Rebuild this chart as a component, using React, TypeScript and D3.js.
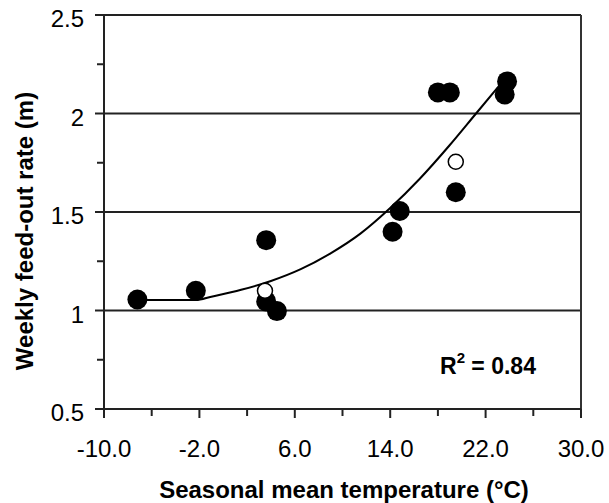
import * as d3 from "d3";

const width = 609;
const height = 503;

// filled markers (observed)
const obsTemp = [-7.2, -2.3, 3.6, 3.6, 4.5, 14.2, 14.8, 18.0, 19.0, 19.5, 23.8, 23.6];
const obsRate = [1.056, 1.1, 1.357, 1.046, 0.997, 1.4, 1.505, 2.107, 2.107, 1.6, 2.163, 2.097];

// open markers
const openTemp = [3.5, 19.5];
const openRate = [1.1, 1.755];

// fitted trend line
const fitTemp = [-7.2, -2.3, -1, 1.5, 4, 6.5, 9, 11.5, 14, 16.5, 19, 21.2, 23.2];
const fitRate = [1.053, 1.053, 1.07, 1.105, 1.15, 1.21, 1.29, 1.39, 1.52, 1.67, 1.84, 2.0, 2.145];

const xMajor = [-10, -2, 6, 14, 22, 30];
const xMinor = [-6, 2, 10, 18, 26];
const yMajor = [0.5, 1, 1.5, 2, 2.5];
const yMinor = [0.75, 1.25, 1.75, 2.25];
const gridRates = [1, 1.5, 2, 2.5];

const font = "'Liberation Sans', Arial, sans-serif";

export default function App() {
  const x = d3.scaleLinear().domain([-10, 30]).range([104, 581]);
  const y = d3.scaleLinear().domain([0.5, 2.5]).range([409, 15]);

  const fitLine = d3
    .line<number>()
    .x((d) => x(d))
    .y((_, i) => y(fitRate[i]))
    .curve(d3.curveMonotoneX);

  return (
    <svg
      width={width}
      height={height}
      style={{ position: "absolute", left: 0, top: 0, background: "#fff" }}
      fontFamily={font}
    >
      {/* grid lines */}
      {gridRates.map((r) => (
        <line key={r} x1={x(-10)} x2={x(30)} y1={y(r)} y2={y(r)} stroke="#222" strokeWidth={2} />
      ))}
      {/* right border */}
      <line x1={x(30)} x2={x(30)} y1={y(2.5)} y2={y(0.5)} stroke="#333" strokeWidth={2} />

      {/* axes */}
      <line x1={x(-10)} x2={x(-10)} y1={y(2.5)} y2={y(0.5)} stroke="#222" strokeWidth={2} />
      <line x1={x(-10)} x2={x(30)} y1={y(0.5)} y2={y(0.5)} stroke="#222" strokeWidth={2} />

      {yMajor.map((v) => (
        <g key={v}>
          <line x1={x(-10) - 9} x2={x(-10)} y1={y(v)} y2={y(v)} stroke="#222" strokeWidth={2} />
          <text x={84} y={y(v) + 12} textAnchor="end" fontSize={24}>
            {v}
          </text>
        </g>
      ))}
      {yMinor.map((v) => (
        <line key={v} x1={x(-10) - 7} x2={x(-10)} y1={y(v)} y2={y(v)} stroke="#222" strokeWidth={2} />
      ))}

      {xMajor.map((v) => (
        <g key={v}>
          <line x1={x(v)} x2={x(v)} y1={y(0.5)} y2={y(0.5) + 9} stroke="#222" strokeWidth={2} />
          <text x={x(v)} y={457} textAnchor="middle" fontSize={24}>
            {v.toFixed(1)}
          </text>
        </g>
      ))}
      {xMinor.map((v) => (
        <line key={v} x1={x(v)} x2={x(v)} y1={y(0.5)} y2={y(0.5) + 7} stroke="#222" strokeWidth={2} />
      ))}

      {/* trend */}
      <path d={fitLine(fitTemp) ?? ""} fill="none" stroke="#000" strokeWidth={2} />

      {/* markers */}
      {obsTemp.map((t, i) => (
        <circle key={i} cx={x(t)} cy={y(obsRate[i])} r={10} fill="#000" />
      ))}
      {openTemp.map((t, i) => (
        <circle key={"o" + i} cx={x(t)} cy={y(openRate[i])} r={7.5} fill="#fff" stroke="#000" strokeWidth={1.5} />
      ))}

      {/* R squared */}
      <text x={440} y={374} fontSize={23} fontWeight="bold">
        R<tspan dy={-11} fontSize={15}>2</tspan>
        <tspan dy={11}> = 0.84</tspan>
      </text>

      {/* titles */}
      <text x={344} y={498} textAnchor="middle" fontSize={24} fontWeight="bold">
        Seasonal mean temperature (°C)
      </text>
      <text
        transform={`translate(33,231) rotate(-90)`}
        textAnchor="middle"
        fontSize={24}
        fontWeight="bold"
      >
        Weekly feed-out rate (m)
      </text>
    </svg>
  );
}
